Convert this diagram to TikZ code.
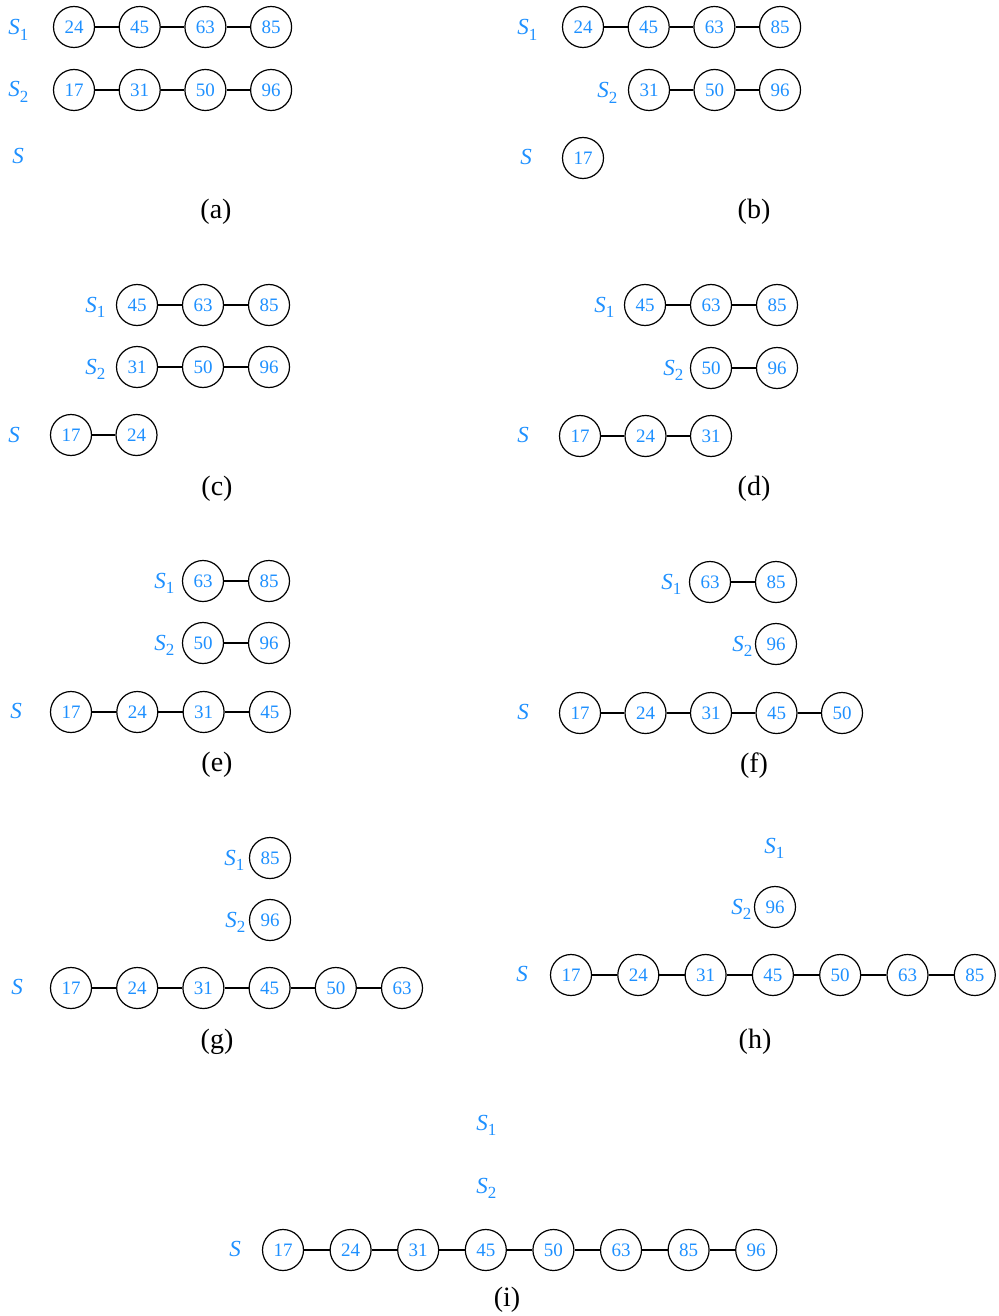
\documentclass[tikz,border=0pt]{standalone}
\usepackage{fontspec}
\setmainfont{Liberation Serif}

\definecolor{setblue}{RGB}{30,144,255}

% set name with a lowered index
\newcommand{\setname}[1]{\textit{S}\raisebox{-0.55ex}{\fontsize{8.5}{9}\selectfont #1}}
% one linked list: #1 name, #2 x of first cell, #3 spacing, #4 y, #5 keys
\newcommand{\listrow}[5]{%
  \foreach \v [count=\k, remember=\k as \j (initially 0)] in {#5} {
    \node[elem] (#1-\k) at ({#2+(\k-1)*#3},#4) {\v};
    \ifnum\j>0\relax \draw[link] (#1-\j) -- (#1-\k); \fi
  }}

\begin{document}
\begin{tikzpicture}[
  x=0.5pt, y=-0.5pt,
  elem/.style={draw, circle, line width=0.6pt, minimum size=20.5pt, inner sep=0pt, text=setblue, font=\fontsize{9.5}{10}\selectfont},
  link/.style={line width=0.6pt},
  setlab/.style={anchor=base west, inner sep=0pt, text=setblue, font=\fontsize{11.5}{12}\selectfont},
  caption/.style={font=\fontsize{14}{16}\selectfont},
]
\useasboundingbox (0,0) rectangle (998,1316);

% (a) the two sorted input lists
\node[setlab] (a-s1) at (8,35) {\setname{1}};
\node[setlab] (a-s2) at (8,97) {\setname{2}};
\node[setlab] (a-s) at (12,164) {\textit{S}};
\listrow{a1}{74}{65.7}{27}{24,45,63,85}
\listrow{a2}{74}{65.7}{90}{17,31,50,96}
\node[caption] (a-cap) at (216,212) {(a)};

% (b)
\node[setlab] (b-s1) at (517,35) {\setname{1}};
\node[setlab] (b-s2) at (597,98) {\setname{2}};
\node[setlab] (b-s) at (520,165) {\textit{S}};
\listrow{b1}{583}{65.7}{27}{24,45,63,85}
\listrow{b2}{649}{65.5}{90}{31,50,96}
\listrow{b3}{583}{65.7}{158}{17}
\node[caption] (b-cap) at (754,212) {(b)};

% (c)
\node[setlab] (c-s1) at (85,312) {\setname{1}};
\node[setlab] (c-s2) at (85,374) {\setname{2}};
\node[setlab] (c-s) at (8,442) {\textit{S}};
\listrow{c1}{137}{66}{305}{45,63,85}
\listrow{c2}{137}{66}{367}{31,50,96}
\listrow{c3}{71}{65.5}{435}{17,24}
\node[caption] (c-cap) at (217,489) {(c)};

% (d)
\node[setlab] (d-s1) at (594,312) {\setname{1}};
\node[setlab] (d-s2) at (663,375) {\setname{2}};
\node[setlab] (d-s) at (517,442) {\textit{S}};
\listrow{d1}{645}{66}{305}{45,63,85}
\listrow{d2}{711}{66}{368}{50,96}
\listrow{d3}{580}{65.5}{436}{17,24,31}
\node[caption] (d-cap) at (754,489) {(d)};

% (e)
\node[setlab] (e-s1) at (154,588) {\setname{1}};
\node[setlab] (e-s2) at (154,650) {\setname{2}};
\node[setlab] (e-s) at (10,718) {\textit{S}};
\listrow{e1}{203}{66}{581}{63,85}
\listrow{e2}{203}{66}{643}{50,96}
\listrow{e3}{71}{66.3}{712}{17,24,31,45}
\node[caption] (e-cap) at (217,765) {(e)};

% (f)
\node[setlab] (f-s1) at (661,589) {\setname{1}};
\node[setlab] (f-s2) at (732,651) {\setname{2}};
\node[setlab] (f-s) at (517,719) {\textit{S}};
\listrow{f1}{710}{66}{582}{63,85}
\listrow{f2}{776}{66}{644}{96}
\listrow{f3}{580}{65.5}{713}{17,24,31,45,50}
\node[caption] (f-cap) at (754,766) {(f)};

% (g)
\node[setlab] (g-s1) at (224,865) {\setname{1}};
\node[setlab] (g-s2) at (225,927) {\setname{2}};
\node[setlab] (g-s) at (11,994) {\textit{S}};
\listrow{g1}{270}{66}{858}{85}
\listrow{g2}{270}{66}{920}{96}
\listrow{g3}{71}{66.2}{988}{17,24,31,45,50,63}
\node[caption] (g-cap) at (217,1042) {(g)};

% (h)
\node[setlab] (h-s1) at (764,853) {\setname{1}};
\node[setlab] (h-s2) at (731,914) {\setname{2}};
\node[setlab] (h-s) at (516,981) {\textit{S}};
\listrow{h2}{775}{66}{907}{96}
\listrow{h3}{571}{67.3}{975}{17,24,31,45,50,63,85}
\node[caption] (h-cap) at (755,1042) {(h)};

% (i) merged result
\node[setlab] (i-s1) at (476,1130) {\setname{1}};
\node[setlab] (i-s2) at (476,1193) {\setname{2}};
\node[setlab] (i-s) at (229,1256) {\textit{S}};
\listrow{i3}{283}{67.6}{1250}{17,24,31,45,50,63,85,96}
\node[caption] (i-cap) at (507,1300) {(i)};

\end{tikzpicture}
\end{document}
